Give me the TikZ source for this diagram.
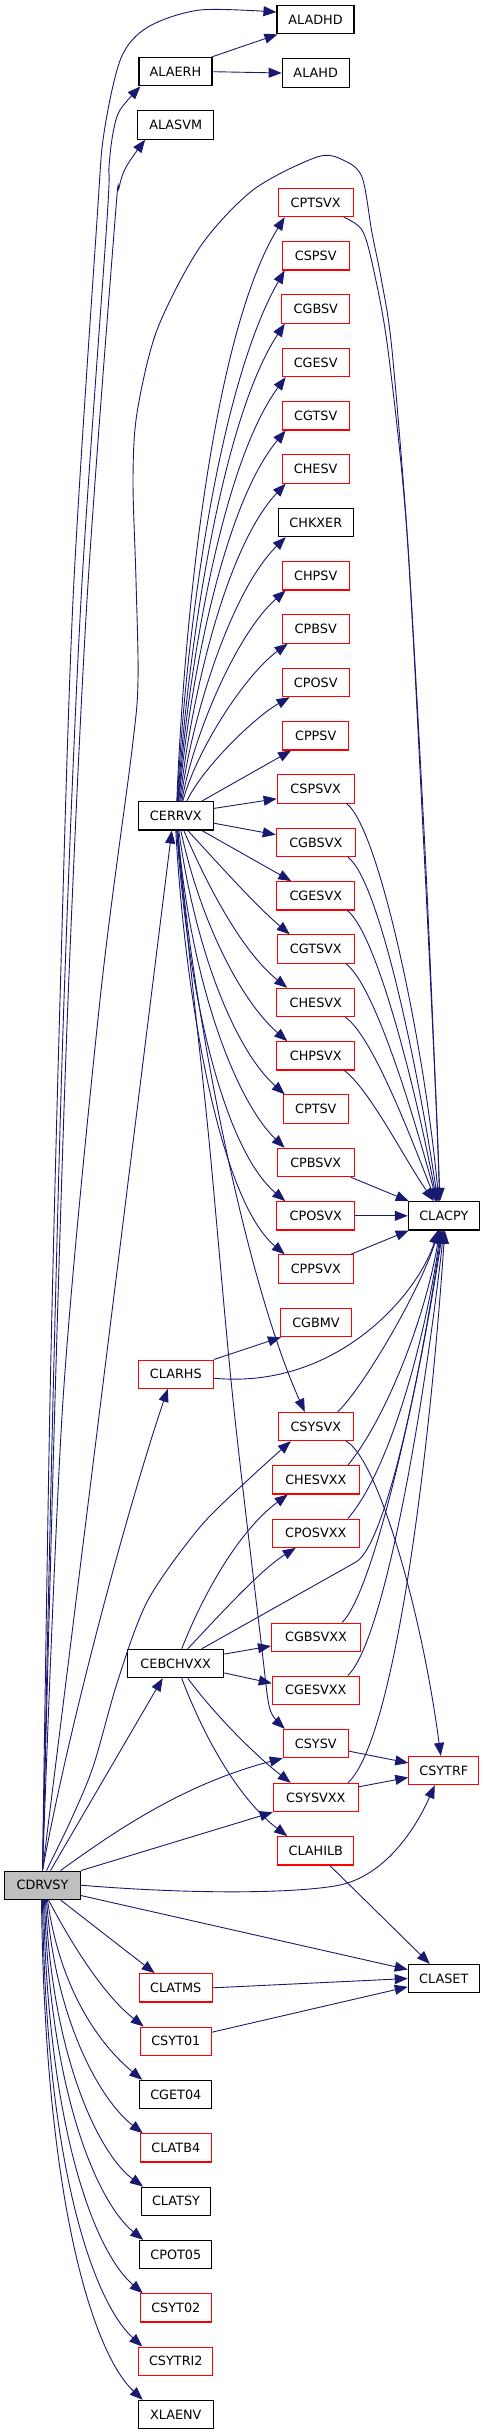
\documentclass[tikz,border=0pt]{standalone}
\usepackage{fontspec}
\newfontfamily\dvs{DejaVu Sans}
\usetikzlibrary{arrows.meta}
\definecolor{edgec}{HTML}{191970}
\definecolor{nodered}{HTML}{FF0000}
\definecolor{rootfill}{HTML}{BFBFBF}
\begin{document}
\begin{tikzpicture}[x=1pt,y=-1pt,
  bx/.style={draw=black, line width=1.1pt, minimum height=28.3pt, inner sep=0pt, font=\dvs\fontsize{12.8}{15}\selectfont},
  rbx/.style={bx, draw=nodered},
  cx/.style={draw=edgec, line width=0.9pt, -{Triangle[length=13pt,width=10pt]}},
]
\useasboundingbox (0,0) rectangle (485,2435);
% nodes
\node[bx, minimum width=77pt] (ALADHD) at (315.5,19.7) {ALADHD};
\node[bx, minimum width=73pt] (ALAERH) at (175.5,71.7) {ALAERH};
\node[bx, minimum width=67pt] (ALAHD) at (315.7,73) {ALAHD};
\node[bx, minimum width=76pt] (ALASVM) at (175.7,125) {ALASVM};
\node[rbx, minimum width=75pt] (CPTSVX) at (315.7,202.5) {CPTSVX};
\node[rbx, minimum width=67pt] (CSPSV) at (315.7,255.8) {CSPSV};
\node[rbx, minimum width=68pt] (CGBSV) at (315.8,309) {CGBSV};
\node[rbx, minimum width=67pt] (CGESV) at (315.7,362.5) {CGESV};
\node[rbx, minimum width=67pt] (CGTSV) at (315.7,415.8) {CGTSV};
\node[rbx, minimum width=67pt] (CHESV) at (315.7,469) {CHESV};
\node[bx, minimum width=75pt] (CHKXER) at (315.8,522.5) {CHKXER};
\node[rbx, minimum width=67pt] (CHPSV) at (315.7,575.8) {CHPSV};
\node[rbx, minimum width=67pt] (CPBSV) at (315.7,629) {CPBSV};
\node[rbx, minimum width=67pt] (CPOSV) at (315.7,682.5) {CPOSV};
\node[rbx, minimum width=66pt] (CPPSV) at (315.7,735.8) {CPPSV};
\node[rbx, minimum width=77pt] (CSPSVX) at (315.7,789) {CSPSVX};
\node[bx, minimum width=75pt] (CERRVX) at (175.8,815.8) {CERRVX};
\node[rbx, minimum width=79pt] (CGBSVX) at (315.8,842.5) {CGBSVX};
\node[rbx, minimum width=78pt] (CGESVX) at (315.8,895.8) {CGESVX};
\node[rbx, minimum width=77pt] (CGTSVX) at (315.8,949) {CGTSVX};
\node[rbx, minimum width=78pt] (CHESVX) at (315.8,1002.5) {CHESVX};
\node[rbx, minimum width=78pt] (CHPSVX) at (315.8,1055.8) {CHPSVX};
\node[rbx, minimum width=65pt] (CPTSV) at (315.8,1109) {CPTSV};
\node[rbx, minimum width=77pt] (CPBSVX) at (315.7,1162.5) {CPBSVX};
\node[rbx, minimum width=78pt] (CPOSVX) at (315.8,1215.8) {CPOSVX};
\node[bx, minimum width=71pt] (CLACPY) at (443.8,1215.8) {CLACPY};
\node[rbx, minimum width=75pt] (CPPSVX) at (315.8,1269) {CPPSVX};
\node[rbx, minimum width=71pt] (CGBMV) at (316,1322.5) {CGBMV};
\node[rbx, minimum width=75pt] (CLARHS) at (175.8,1374.2) {CLARHS};
\node[rbx, minimum width=75pt] (CSYSVX) at (315.8,1426.5) {CSYSVX};
\node[rbx, minimum width=87pt] (CHESVXX) at (315.8,1479.8) {CHESVXX};
\node[rbx, minimum width=87pt] (CPOSVXX) at (315.8,1533.2) {CPOSVXX};
\node[rbx, minimum width=89pt] (CGBSVXX) at (316,1637.2) {CGBSVXX};
\node[bx, minimum width=96pt] (CEBCHVXX) at (175.7,1663.5) {CEBCHVXX};
\node[rbx, minimum width=87pt] (CGESVXX) at (315.8,1690.2) {CGESVXX};
\node[rbx, minimum width=65pt] (CSYSV) at (315.8,1743.5) {CSYSV};
\node[rbx, minimum width=70pt] (CSYTRF) at (443.8,1770.5) {CSYTRF};
\node[rbx, minimum width=85pt] (CSYSVXX) at (315.8,1797.5) {CSYSVXX};
\node[rbx, minimum width=76pt] (CLAHILB) at (315.8,1850.8) {CLAHILB};
\node[bx, minimum width=76pt, fill=rootfill] (CDRVSY) at (42.5,1885.2) {CDRVSY};
\node[bx, minimum width=71pt] (CLASET) at (443.8,1978.5) {CLASET};
\node[rbx, minimum width=73pt] (CLATMS) at (175.7,1987.8) {CLATMS};
\node[rbx, minimum width=71pt] (CSYT01) at (175.8,2041.2) {CSYT01};
\node[bx, minimum width=72pt] (CGET04) at (175.8,2094.5) {CGET04};
\node[rbx, minimum width=71pt] (CLATB4) at (175.8,2147.8) {CLATB4};
\node[bx, minimum width=69pt] (CLATSY) at (176,2201.2) {CLATSY};
\node[bx, minimum width=72pt] (CPOT05) at (175.8,2254.5) {CPOT05};
\node[rbx, minimum width=71pt] (CSYT02) at (175.8,2307.8) {CSYT02};
\node[rbx, minimum width=74pt] (CSYTRI2) at (175.8,2361.2) {CSYTRI2};
\node[bx, minimum width=75pt] (XLAENV) at (175.8,2414.5) {XLAENV};

% ALAERH
\draw[cx] ([xshift=-1pt]ALAERH.north east) -- ([xshift=1pt]ALADHD.south west);
\draw[cx] (ALAERH.east) -- (ALAHD.west);

% CDRVSY to top nodes
\draw[cx] plot[smooth] coordinates {(CDRVSY.north) (50,1400) (60,1000) (73,600) (97,220) (104,133) (121,58) (148,27) (200,10) (ALADHD.169)};
\draw[cx] plot[smooth] coordinates {(CDRVSY.north) (53,1400) (64,1000) (81,600) (107,220) (109,167) (113,133) (120,110) ([xshift=2pt]ALAERH.south west)};
\draw[cx] plot[smooth] coordinates {(CDRVSY.north) (55,1400) (68,1000) (87,600) (115,220) (119,188) (126,167) ([xshift=8pt]ALASVM.south west)};
% big arc to CLACPY
\draw[cx] plot[smooth] coordinates {(CDRVSY.north) (63,1400) (100,1000) (132,750) (138,680) (136,580) (133,480) (137,413) (157,330) (200,247) (253,190) (317,157) (343,160) (362,177) (372,233) (382,283) (392,350) (408,547) (425,850) (436,1100) ([xshift=-4pt]CLACPY.north)};
\draw[cx] plot[smooth] coordinates {([xshift=-10pt]CPTSVX.south east) (362,230) (373,267) (388,350) (407,533) (424,850) (436,1100) ([xshift=-4pt]CLACPY.north)};

% CDRVSY -> CERRVX
\draw[cx] (CDRVSY.north) -- ([xshift=-4pt]CERRVX.south);

% CERRVX upper fan
\draw[cx] ([xshift=1pt]CERRVX.north) .. controls (185,600) and (215,330) .. ([xshift=7pt]CPTSVX.south west);
\draw[cx] ([xshift=1.5pt]CERRVX.north) .. controls (187,610) and (222,380) .. ([xshift=3pt]CSPSV.south west);
\draw[cx] ([xshift=2pt]CERRVX.north) .. controls (188,644) and (222,419) .. ([xshift=3.5pt]CGBSV.south west);
\draw[cx] ([xshift=2.5pt]CERRVX.north) .. controls (189,661) and (223,462) .. ([xshift=4pt]CGESV.south west);
\draw[cx] ([xshift=3pt]CERRVX.north) .. controls (190,679) and (224,504) .. ([xshift=4pt]CGTSV.south west);
\draw[cx] ([xshift=4pt]CERRVX.north) .. controls (191,697) and (226,547) .. ([xshift=4pt]CHESV.south west);
\draw[cx] ([xshift=5pt]CERRVX.north) .. controls (192,714) and (232,590) .. ([xshift=8pt]CHKXER.south west);
\draw[cx] ([xshift=6pt]CERRVX.north) .. controls (194,732) and (238,632) .. ([xshift=4pt]CHPSV.south west);
\draw[cx] ([xshift=7pt]CERRVX.north) .. controls (197,749) and (245,675) .. ([xshift=6pt]CPBSV.south west);
\draw[cx] ([xshift=11pt]CERRVX.north) .. controls (203,767) and (255,717) .. ([xshift=8pt]CPOSV.south west);
\draw[cx] ([xshift=26pt]CERRVX.north) -- ([xshift=9pt]CPPSV.south west);
\draw[cx] (CERRVX.11) -- (CSPSVX.194);
\draw[cx] (CERRVX.-11) -- (CGBSVX.169);
\draw[cx] ([xshift=26pt]CERRVX.south) -- ([xshift=15pt]CGESVX.north west);
\draw[cx] ([xshift=12pt]CERRVX.south) .. controls (215,860) and (255,905) .. ([xshift=13pt]CGTSVX.north west);
\draw[cx] ([xshift=8pt]CERRVX.south) .. controls (205,880) and (240,950) .. ([xshift=11pt]CHESVX.north west);
\draw[cx] ([xshift=5pt]CERRVX.south) .. controls (200,920) and (240,1000) .. ([xshift=11pt]CHPSVX.north west);
\draw[cx] ([xshift=3pt]CERRVX.south) .. controls (195,950) and (235,1050) .. ([xshift=2pt]CPTSV.north west);
\draw[cx] ([xshift=2pt]CERRVX.south) .. controls (190,980) and (235,1100) .. ([xshift=8pt]CPBSVX.north west);
\draw[cx] ([xshift=1pt]CERRVX.south) .. controls (188,1000) and (225,1150) .. ([xshift=9pt]CPOSVX.north west);
\draw[cx] (CERRVX.south) .. controls (185,1000) and (220,1200) .. ([xshift=7pt]CPPSVX.north west);
\draw[cx] ([xshift=2pt]CERRVX.south) .. controls (190,1000) and (245,1280) .. ([xshift=-11pt]CSYSVX.north);
\draw[cx] plot[smooth] coordinates {([xshift=1pt]CERRVX.south) (192,980) (209,1140) (233,1400) (262,1650) (268,1700) (273,1716) ([xshift=2pt]CSYSV.north west)};

% into CLACPY from the X column
\draw[cx] ([xshift=-8pt]CSPSVX.south east) .. controls (380,830) and (425,1050) .. ([xshift=-5pt]CLACPY.north);
\draw[cx] ([xshift=-8pt]CGBSVX.south east) .. controls (380,880) and (420,1080) .. ([xshift=-6pt]CLACPY.north);
\draw[cx] ([xshift=-8pt]CGESVX.south east) .. controls (378,935) and (418,1100) .. ([xshift=-7pt]CLACPY.north);
\draw[cx] ([xshift=-9pt]CGTSVX.south east) .. controls (375,985) and (415,1120) .. ([xshift=-7pt]CLACPY.north);
\draw[cx] ([xshift=-10pt]CHESVX.south east) .. controls (372,1035) and (412,1140) .. ([xshift=-8pt]CLACPY.north);
\draw[cx] ([xshift=-11pt]CHPSVX.south east) .. controls (370,1090) and (405,1160) .. ([xshift=-10pt]CLACPY.north);
\draw[cx] ([xshift=-4pt]CPBSVX.south east) -- ([xshift=1pt]CLACPY.north west);
\draw[cx] (CPOSVX.east) -- (CLACPY.west);
\draw[cx] ([xshift=-3pt]CPPSVX.north east) -- ([xshift=1pt]CLACPY.south west);

% CLARHS
\draw[cx] (CDRVSY.north) .. controls (70,1720) and (130,1500) .. ([xshift=-8pt]CLARHS.south);
\draw[cx] (CLARHS.north east) -- ([xshift=1pt]CGBMV.south west);
\draw[cx] (CLARHS.-6) .. controls (340,1390) and (420,1290) .. ([xshift=-6pt]CLACPY.south);

% into CLACPY from below
\draw[cx] ([xshift=22pt]CSYSVX.north) .. controls (365,1385) and (420,1290) .. ([xshift=-5pt]CLACPY.south);
\draw[cx] ([xshift=-12pt]CHESVXX.north east) .. controls (385,1420) and (425,1320) .. ([xshift=-4pt]CLACPY.south);
\draw[cx] ([xshift=-12pt]CPOSVXX.north east) .. controls (390,1470) and (425,1340) .. ([xshift=-3pt]CLACPY.south);
\draw[cx] ([xshift=26pt]CEBCHVXX.north) -- (356,1562) .. controls (385,1545) and (420,1380) .. ([xshift=-2pt]CLACPY.south);
\draw[cx] ([xshift=-19pt]CGBSVXX.north east) .. controls (375,1590) and (420,1380) .. ([xshift=-1pt]CLACPY.south);
\draw[cx] ([xshift=-12pt]CGESVXX.north east) .. controls (385,1640) and (425,1400) .. (CLACPY.south);
\draw[cx] ([xshift=-11pt]CSYSVXX.north east) .. controls (395,1740) and (430,1450) .. ([xshift=1pt]CLACPY.south);

% into CSYTRF
\draw[cx] ([xshift=-8pt]CSYSVX.south east) .. controls (375,1455) and (420,1600) .. ([xshift=-3pt]CSYTRF.north);
\draw[cx] (CSYSV.-13) -- (CSYTRF.168);
\draw[cx] (CSYSVXX.14) -- (CSYTRF.191);

% CEBCHVXX
\draw[cx] ([xshift=6pt]CEBCHVXX.north) .. controls (205,1590) and (240,1530) .. ([xshift=16pt]CHESVXX.south west);
\draw[cx] ([xshift=12pt]CEBCHVXX.north) .. controls (215,1620) and (260,1570) .. ([xshift=24pt]CPOSVXX.south west);
\draw[cx] (CEBCHVXX.11) -- (CGBSVXX.191);
\draw[cx] (CEBCHVXX.-11) -- (CGESVXX.171);
\draw[cx] ([xshift=12pt]CEBCHVXX.south) .. controls (215,1715) and (255,1755) .. ([xshift=18pt]CSYSVXX.north west);
\draw[cx] ([xshift=6pt]CEBCHVXX.south) .. controls (205,1740) and (240,1800) .. ([xshift=10pt]CLAHILB.north west);

% CDRVSY to middle nodes
\draw[cx] ([xshift=8pt]CDRVSY.north) -- ([xshift=-13pt]CEBCHVXX.south);
\draw[cx] plot[smooth] coordinates {([xshift=4pt]CDRVSY.north) (70,1822) (93,1767) (118,1680) (148,1600) (200,1527) (250,1478) ([xshift=-25pt]CSYSVX.south)};
\draw[cx] ([xshift=18pt]CDRVSY.north) .. controls (110,1835) and (180,1785) .. (CSYSV.south west);
\draw[cx] (CDRVSY.north east) -- (CSYSVXX.south west);
\draw[cx] (CDRVSY.east) .. controls (200,1895) and (300,1893) .. (340,1885) .. controls (385,1875) and (415,1830) .. ([xshift=-9pt]CSYTRF.south);
\draw[cx] (CDRVSY.-15) -- (CLASET.166);

% into CLASET
\draw[cx] ([xshift=14pt]CLAHILB.south) -- ([xshift=-14pt]CLASET.north);
\draw[cx] (CLATMS.east) -- (CLASET.west);
\draw[cx] (CSYT01.14) -- (CLASET.193);

% CDRVSY to lower column
\draw[cx] ([xshift=18pt]CDRVSY.south) -- ([xshift=16pt]CLATMS.north west);
\draw[cx] ([xshift=6pt]CDRVSY.south) .. controls (80,1960) and (110,2000) .. ([xshift=4pt]CSYT01.north west);
\draw[cx] ([xshift=5pt]CDRVSY.south) .. controls (60,1990) and (100,2045) .. ([xshift=3pt]CGET04.north west);
\draw[cx] ([xshift=4pt]CDRVSY.south) .. controls (55,2020) and (100,2100) .. ([xshift=3pt]CLATB4.north west);
\draw[cx] ([xshift=3pt]CDRVSY.south) .. controls (52,2060) and (100,2155) .. ([xshift=2pt]CLATSY.north west);
\draw[cx] ([xshift=2pt]CDRVSY.south) .. controls (50,2100) and (100,2205) .. ([xshift=4pt]CPOT05.north west);
\draw[cx] ([xshift=1pt]CDRVSY.south) .. controls (48,2140) and (98,2255) .. ([xshift=3pt]CSYT02.north west);
\draw[cx] (CDRVSY.south) .. controls (46,2180) and (97,2305) .. ([xshift=4pt]CSYTRI2.north west);
\draw[cx] ([xshift=-1pt]CDRVSY.south) .. controls (45,2210) and (95,2355) .. ([xshift=5pt]XLAENV.north west);
\end{tikzpicture}
\end{document}
